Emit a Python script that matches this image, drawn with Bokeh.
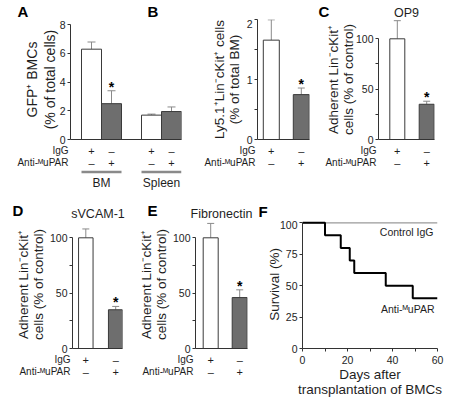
from bokeh.plotting import figure
from bokeh.models import ColumnDataSource, Range1d, FixedTicker, Whisker, TeeHead
from bokeh.layouts import row, column
from bokeh.core.properties import value
from bokeh.embed import file_html
from bokeh.resources import INLINE

FONT = "Liberation Sans"
INK = "#1e1e1e"
AXIS = "#333333"
GREY_BAR = "#6e6e6e"
ERR = "#8a8a8a"

# ---------------- data ----------------
ROW_LABELS = ["IgG", "Anti-ᴹuPAR"]

A_groups = ["BM", "BM", "Spleen", "Spleen"]
A_treat = ["IgG", "Anti", "IgG", "Anti"]
A_vals = [6.3, 2.5, 1.7, 1.95]
A_errs = [0.5, 0.9, 0.07, 0.32]
A_sig = [False, True, False, False]

B_groups = ["", ""]
B_treat = ["IgG", "Anti"]
B_vals = [1.66, 0.75]
B_errs = [0.34, 0.11]
B_sig = [False, True]

C_groups = ["", ""]
C_treat = ["IgG", "Anti"]
C_vals = [100, 35]
C_errs = [18, 3]
C_sig = [False, True]

D_groups = ["", ""]
D_treat = ["IgG", "Anti"]
D_vals = [100, 35]
D_errs = [8, 3]
D_sig = [False, True]

E_groups = ["", ""]
E_treat = ["IgG", "Anti"]
E_vals = [100, 46]
E_errs = [13, 7]
E_sig = [False, True]

F_days = [0, 10, 17, 21, 23, 37, 49, 60]
F_anti = [100, 90, 80, 70, 60, 50, 40, 40]
F_ctrl_days = [0, 60]
F_ctrl = [100, 100]

PANEL_LETTERS_TOP = ["A", "B", "C"]
PANEL_LETTERS_BOT = ["D", "E", "F"]
TITLES_TOP = ["OP9"]
TITLES_BOT = ["sVCAM-1", "Fibronectin"]

# ---------------- layout (page pixels) ----------------
PAGE_W = 456
HEAD_TOP = (0, 19)
HEAD_BOT = (200, 220)
TOP = dict(y0=19, bars_h=125, frame_top=19, zero=139, tab_h=56)
BOT = dict(y0=220, bars_h=133, frame_top=220, zero=348, tab_h=49)
ROW0 = 6.0      # px from table top to first row
ROWSP = 12.0    # px between rows
UL_ROW = 1.8    # underline row (in row units)
GL_ROW = 2.68   # group label row
STAR_GAP = 4.0  # px between error cap and asterisk


def style_common(p):
    p.outline_line_color = None
    p.grid.visible = False
    p.background_fill_color = "white"
    p.border_fill_color = "white"


def header(y0, y1, letters, letter_pos, titles, title_pos):
    h = figure(width=PAGE_W, height=y1 - y0, x_range=Range1d(0, PAGE_W),
               y_range=Range1d(y1, y0), output_backend="svg", toolbar_location=None,
               min_border_left=0, min_border_right=0, min_border_top=0,
               min_border_bottom=0)
    style_common(h)
    h.axis.visible = False
    h.text(x=[p[0] for p in letter_pos], y=[p[1] for p in letter_pos], text=letters,
           text_align="left", text_baseline="middle", text_font=value(FONT),
           text_font_style="bold", text_font_size="15px", text_color="black")
    h.text(x=[p[0] for p in title_pos], y=[p[1] for p in title_pos], text=titles,
           text_align="center", text_baseline="middle", text_font=value(FONT),
           text_font_size="12.5px", text_color=INK)
    return h


def bar_panel(cfg, rc):
    groups, treat = cfg["groups"], cfg["treat"]
    vals, errs, sig = cfg["vals"], cfg["errs"], cfg["sig"]
    pos = []
    cur = 0.0
    for i, g in enumerate(groups):
        if i > 0:
            cur += 1.0 + (cfg.get("group_gap", 0.0) if g != groups[i - 1] else 0.0)
        pos.append(cur)
    unit = cfg["unit_px"]
    bw = cfg["bar_px"] / unit
    W = cfg["cx1"] - cfg["cx0"]
    mbl = int(round(cfg["axis_px"] - cfg["cx0"]))
    axis_px = cfg["cx0"] + mbl
    x_start = -(cfg["c0_px"] - axis_px) / unit
    frame_w = int(round((pos[-1] + bw / 2 - x_start) * unit))
    mbr = W - mbl - frame_w
    x_end = x_start + frame_w / unit
    xr = Range1d(x_start, x_end)

    zero = rc["zero"]
    s = (zero - cfg["tick_px"]) / cfg["yticks"][-1]
    ftop = rc["frame_top"]
    y_end = (zero - ftop) / s
    H = rc["bars_h"]
    mbt = ftop - rc["y0"]
    mbb = H - mbt - (zero - ftop)

    p = figure(width=W, height=H, x_range=xr, y_range=Range1d(0, y_end),
               output_backend="svg", toolbar_location=None,
               min_border_left=mbl, min_border_right=mbr,
               min_border_top=mbt, min_border_bottom=mbb)
    style_common(p)

    ya = p.yaxis[0]
    ya.ticker = FixedTicker(ticks=cfg["yticks"], minor_ticks=cfg["yminor"])
    ya.bounds = (0, cfg["yticks"][-1])
    ya.axis_line_color = AXIS
    ya.major_tick_line_color = AXIS
    ya.minor_tick_line_color = AXIS
    ya.major_tick_out = 3
    ya.major_tick_in = 0
    ya.minor_tick_out = 3
    ya.minor_tick_in = 0
    ya.major_label_standoff = 2
    ya.major_label_text_font = FONT
    ya.major_label_text_font_size = "10.5px"
    ya.major_label_text_color = INK
    ya.axis_label = cfg["ylabel"]
    ya.axis_label_text_font = FONT
    ya.axis_label_text_font_style = "normal"
    ya.axis_label_text_font_size = cfg["ylabel_size"]
    ya.axis_label_text_line_height = cfg["ylabel_lh"]
    ya.axis_label_text_color = INK
    ya.axis_label_standoff = cfg["ylabel_standoff"]

    xa = p.xaxis[0]
    xa.ticker = FixedTicker(ticks=[])
    xa.major_tick_out = 0
    xa.major_tick_in = 0
    xa.minor_tick_out = 0
    xa.minor_tick_in = 0
    xa.major_label_standoff = 0
    xa.major_label_text_font_size = "0px"
    xa.axis_line_color = AXIS

    fills = ["white" if t == "IgG" else GREY_BAR for t in treat]
    upper = [v + e for v, e in zip(vals, errs)]
    src = ColumnDataSource(dict(x=pos, top=vals, upper=upper, fill=fills))
    p.vbar(x="x", top="top", width=bw, fill_color="fill", line_color="#3a3a3a",
           line_width=1, source=src)
    p.add_layout(Whisker(source=src, base="x", lower="top", upper="upper",
                         dimension="height", line_color=ERR, line_width=1,
                         lower_head=None,
                         upper_head=TeeHead(size=cfg["cap"], line_color=ERR, line_width=1)))
    sx = [x for x, f in zip(pos, sig) if f]
    sy = [u + STAR_GAP / s for u, f in zip(upper, sig) if f]
    p.text(x=sx, y=sy, text=["*"] * len(sx), text_align="center",
           text_baseline="alphabetic", text_font=value(FONT), text_font_style="bold",
           text_font_size="14px", text_color="black")

    # ----- the +/- table under the bars -----
    T = rc["tab_h"]
    t = figure(width=W, height=T, x_range=xr,
               y_range=Range1d((T - ROW0) / ROWSP, -ROW0 / ROWSP),
               output_backend="svg", toolbar_location=None,
               min_border_left=mbl, min_border_right=mbr,
               min_border_top=0, min_border_bottom=0)
    style_common(t)
    t.xaxis.visible = False
    ty_ = t.yaxis[0]
    ty_.ticker = FixedTicker(ticks=[0, 1], minor_ticks=[])
    ty_.major_label_overrides = {0: ROW_LABELS[0], 1: ROW_LABELS[1]}
    ty_.axis_line_color = None
    ty_.major_tick_line_color = None
    ty_.minor_tick_line_color = None
    ty_.major_tick_out = 0
    ty_.major_tick_in = 0
    ty_.major_label_standoff = 2
    ty_.major_label_text_font = FONT
    ty_.major_label_text_font_size = "10px"
    ty_.major_label_text_color = INK

    n = len(pos)
    r1 = ["+" if tr == "IgG" else "–" for tr in treat]
    r2 = ["–" if tr == "IgG" else "+" for tr in treat]
    t.text(x=pos + pos, y=[0] * n + [1] * n, text=r1 + r2, text_align="center",
           text_baseline="middle", text_font=value(FONT), text_font_size="11px",
           text_color=INK)

    uniq = [g for g in dict.fromkeys(groups) if g]
    if uniq:
        x0s, x1s, cs = [], [], []
        for g in uniq:
            idx = [i for i, gg in enumerate(groups) if gg == g]
            x0s.append(pos[idx[0]] - bw / 2)
            x1s.append(pos[idx[-1]] + bw / 2)
            cs.append((pos[idx[0]] + pos[idx[-1]]) / 2)
        t.segment(x0=x0s, x1=x1s, y0=[UL_ROW] * len(uniq), y1=[UL_ROW] * len(uniq),
                  line_color=ERR, line_width=2.5)
        t.text(x=cs, y=[GL_ROW] * len(uniq), text=uniq, text_align="center",
               text_baseline="middle", text_font=value(FONT), text_font_size="12px",
               text_color=INK)
    return column(p, t)


ADH = "Adherent Lin⁻cKit⁺\ncells (% of control)"

cfgA = dict(groups=A_groups, treat=A_treat, vals=A_vals, errs=A_errs, sig=A_sig,
            group_gap=1.0, cx0=0, cx1=190, axis_px=70.3, c0_px=91, unit_px=20, bar_px=20,
            tick_px=24.3, yticks=[0, 2, 4, 6, 8], yminor=[],
            ylabel="GFP⁺ BMCs\n(% of total cells)", ylabel_size="14px", ylabel_lh=1.1,
            ylabel_standoff=-1, cap=8)
cfgB = dict(groups=B_groups, treat=B_treat, vals=B_vals, errs=B_errs, sig=B_sig,
            cx0=190, cx1=314, axis_px=257.3, c0_px=270.8, unit_px=30, bar_px=16,
            tick_px=19.3, yticks=[0, 1, 2], yminor=[0.5, 1.5],
            ylabel="Ly5.1⁺Lin⁻cKit⁺ cells\n(% of total BM)", ylabel_size="13.5px",
            ylabel_lh=1.0, ylabel_standoff=2, cap=7)
cfgC = dict(groups=C_groups, treat=C_treat, vals=C_vals, errs=C_errs,
            sig=C_sig, cx0=314, cx1=456, axis_px=378.3, c0_px=396.8, unit_px=29.4, bar_px=15,
            tick_px=38.3, yticks=[0, 50, 100], yminor=[25, 75],
            ylabel=ADH, ylabel_size="13.5px", ylabel_lh=1.0, ylabel_standoff=-3, cap=7)
cfgD = dict(groups=D_groups, treat=D_treat, vals=D_vals,
            errs=D_errs, sig=D_sig, cx0=0, cx1=135, axis_px=72.5, c0_px=85.3, unit_px=29.9,
            bar_px=14.5, tick_px=237.3, yticks=[0, 50, 100], yminor=[25, 75],
            ylabel=ADH, ylabel_size="13.5px", ylabel_lh=1.0, ylabel_standoff=1, cap=7)
cfgE = dict(groups=E_groups, treat=E_treat, vals=E_vals,
            errs=E_errs, sig=E_sig, cx0=135, cx1=255, axis_px=195, c0_px=210.2, unit_px=29,
            bar_px=15, tick_px=237.3, yticks=[0, 50, 100], yminor=[25, 75],
            ylabel=ADH, ylabel_size="13.5px", ylabel_lh=1.0, ylabel_standoff=1, cap=7)

colA = bar_panel(cfgA, TOP)
colB = bar_panel(cfgB, TOP)
colC = bar_panel(cfgC, TOP)
colD = bar_panel(cfgD, BOT)
colE = bar_panel(cfgE, BOT)

head_top = header(HEAD_TOP[0], HEAD_TOP[1], PANEL_LETTERS_TOP,
                  [(17, 11), (147, 11), (318, 11)], TITLES_TOP, [(406, 12.5)])
head_bot = header(HEAD_BOT[0], HEAD_BOT[1], PANEL_LETTERS_BOT,
                  [(12, 209.5), (147, 209.5), (258, 211)], TITLES_BOT,
                  [(97.5, 213), (221, 213)])

# ---------------- panel F: survival ----------------
F_cx0, F_cx1 = 255, 456
F_y0, F_y1 = 220, 402
F_W, F_H = F_cx1 - F_cx0, F_y1 - F_y0
F_axis = 302
F_right = 437
F_zero, F_100, F_top = 348, 222.3, 220
f_mbl = F_axis - F_cx0
f_fw = F_right - F_axis
f_mbr = F_W - f_mbl - f_fw
f_mbt = F_top - F_y0
f_mbb = F_H - f_mbt - (F_zero - F_top)
f_s = (F_zero - F_100) / 100.0
f_xs = 60.0 / f_fw

pf = figure(width=F_W, height=F_H, x_range=Range1d(0, 60),
            y_range=Range1d(0, (F_zero - F_top) / f_s),
            output_backend="svg", toolbar_location=None,
            min_border_left=f_mbl, min_border_right=f_mbr,
            min_border_top=f_mbt, min_border_bottom=f_mbb)
style_common(pf)
for ax in (pf.xaxis[0], pf.yaxis[0]):
    ax.axis_line_color = AXIS
    ax.major_tick_line_color = AXIS
    ax.minor_tick_line_color = AXIS
    ax.major_tick_out = 3
    ax.major_tick_in = 0
    ax.minor_tick_out = 3
    ax.minor_tick_in = 0
    ax.major_label_standoff = 2
    ax.major_label_text_font = FONT
    ax.major_label_text_font_size = "10.5px"
    ax.major_label_text_color = INK
    ax.axis_label_text_font = FONT
    ax.axis_label_text_font_style = "normal"
    ax.axis_label_text_font_size = "13.5px"
    ax.axis_label_text_color = INK
pf.xaxis[0].ticker = FixedTicker(ticks=[0, 20, 40, 60], minor_ticks=[10, 30, 50])
pf.xaxis[0].bounds = (0, 60)
pf.xaxis[0].major_label_standoff = 4
pf.xaxis[0].axis_label = "Days after\ntransplantation of BMCs"
pf.xaxis[0].axis_label_text_line_height = 1.0
pf.xaxis[0].axis_label_standoff = 0
pf.yaxis[0].ticker = FixedTicker(ticks=[0, 25, 50, 75, 100], minor_ticks=[])
pf.yaxis[0].bounds = (0, 100)
pf.yaxis[0].axis_label = "Survival (%)"
pf.yaxis[0].axis_label_standoff = -5

pf.line(F_ctrl_days, F_ctrl, line_color="#9a9a9a", line_width=1.3)
pf.step(F_days, F_anti, mode="after", line_color="black", line_width=2)


def fpx(px, py):
    return (px - F_axis) * f_xs, (F_zero - py) / f_s


cx, cy = fpx(433, 231)
pf.text(x=[cx], y=[cy], text=["Control IgG"], text_align="right", text_baseline="middle",
        text_font=value(FONT), text_font_size="10.5px", text_color=INK)
ax_, ay_ = fpx(434, 308.5)
pf.text(x=[ax_], y=[ay_], text=[ROW_LABELS[1]], text_align="right", text_baseline="middle",
        text_font=value(FONT), text_font_size="10.5px", text_color=INK)

layout = column(head_top, row(colA, colB, colC), head_bot, row(colD, colE, pf))

open("out.html", "w").write(file_html(layout, INLINE))
